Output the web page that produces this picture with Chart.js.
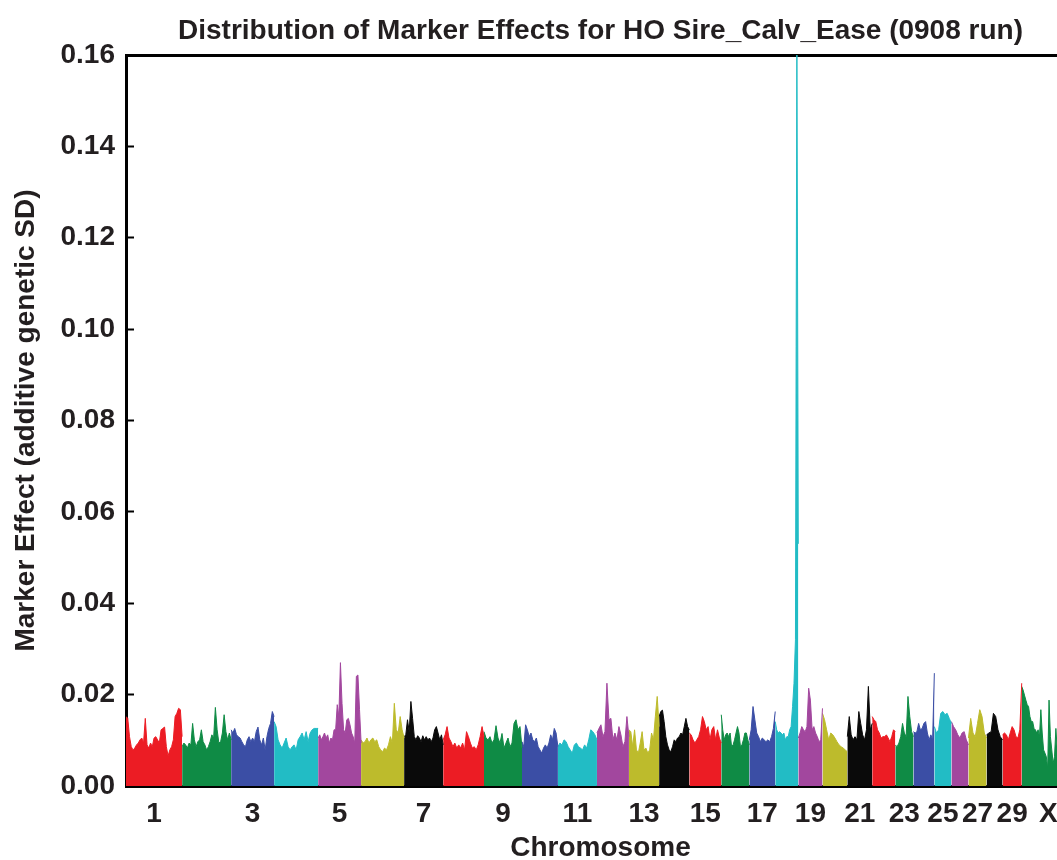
<!DOCTYPE html>
<html>
<head>
<meta charset="utf-8">
<title>Distribution of Marker Effects</title>
<script src="https://cdn.jsdelivr.net/npm/chart.js@4.4.1/dist/chart.umd.min.js"></script>
<style>
  html, body { margin: 0; padding: 0; background: #fff; overflow: hidden; }
  #wrap { width: 1100px; height: 860px; }
</style>
</head>
<body>
<div id="wrap"><canvas id="effectsChart" width="1100" height="860"></canvas></div>
<script>
// chromosomes and their lengths (Mb)
const chromLabels = ['1','2','3','4','5','6','7','8','9','10','11','12','13','14','15',
                     '16','17','18','19','20','21','22','23','24','25','26','27','28','29','X'];
const chromLengths = [158,138,121,124,121,121,110,115,107,101,110,90,85,85,90,
                      79,73,65,68,70,70,65,51,59,48,48,51,45,54,150];
// labels printed under the axis
const tickChroms = ['1','3','5','7','9','11','13','15','17','19','21','23','25','27','29','X'];
const yTicks = [0, 0.02, 0.04, 0.06, 0.08, 0.10, 0.12, 0.14, 0.16];

// marker effects along each chromosome (additive genetic SD)
const chr1 = [0.0152,0.0148,0.0108,0.0086,0.0079,0.0083,0.0090,0.0094,0.0101,0.0105,0.0094,0.0148,0.0090,0.0083,0.0094,0.0086,0.0105,0.0108,0.0101,0.0094,0.0123,0.0126,0.0129,0.0086,0.0066,0.0079,0.0086,0.0101,0.0152,0.0159,0.0170,0.0167,0.0108];
const chr2 = [0.0086,0.0094,0.0090,0.0083,0.0094,0.0090,0.0137,0.0101,0.0086,0.0097,0.0101,0.0123,0.0097,0.0090,0.0079,0.0086,0.0097,0.0112,0.0105,0.0172,0.0123,0.0094,0.0097,0.0116,0.0156,0.0119,0.0101,0.0116,0.0101];
const chr3 = [0.0123,0.0116,0.0126,0.0112,0.0108,0.0105,0.0097,0.0090,0.0086,0.0101,0.0108,0.0097,0.0105,0.0097,0.0119,0.0129,0.0101,0.0090,0.0105,0.0079,0.0108,0.0126,0.0137,0.0163,0.0152];
const chr4 = [0.0141,0.0130,0.0101,0.0090,0.0083,0.0094,0.0105,0.0086,0.0079,0.0086,0.0090,0.0079,0.0101,0.0108,0.0116,0.0101,0.0119,0.0097,0.0116,0.0123,0.0126,0.0126,0.0126];
const chr5 = [0.0105,0.0112,0.0101,0.0108,0.0116,0.0105,0.0112,0.0094,0.0105,0.0101,0.0123,0.0123,0.0178,0.0152,0.0270,0.0181,0.0123,0.0116,0.0145,0.0148,0.0134,0.0116,0.0108,0.0094,0.0240,0.0243,0.0167,0.0094];
const chr6 = [0.0101,0.0094,0.0097,0.0105,0.0094,0.0101,0.0105,0.0097,0.0101,0.0086,0.0079,0.0075,0.0083,0.0079,0.0090,0.0108,0.0094,0.0181,0.0123,0.0116,0.0152,0.0123,0.0105];
const chr7 = [0.0108,0.0112,0.0145,0.0119,0.0185,0.0148,0.0108,0.0101,0.0110,0.0105,0.0097,0.0110,0.0101,0.0108,0.0101,0.0105,0.0097,0.0105,0.0123,0.0130,0.0116,0.0101,0.0112,0.0090];
const chr8 = [0.0101,0.0112,0.0130,0.0105,0.0097,0.0086,0.0094,0.0083,0.0090,0.0083,0.0094,0.0079,0.0119,0.0108,0.0094,0.0083,0.0086,0.0079,0.0090,0.0108,0.0130,0.0108];
const chr9 = [0.0119,0.0105,0.0101,0.0108,0.0094,0.0101,0.0132,0.0105,0.0094,0.0115,0.0083,0.0094,0.0105,0.0086,0.0094,0.0137,0.0145,0.0123,0.0130,0.0083];
const chr10 = [0.0097,0.0086,0.0134,0.0123,0.0108,0.0116,0.0101,0.0097,0.0105,0.0086,0.0079,0.0072,0.0083,0.0090,0.0083,0.0094,0.0112,0.0101,0.0126,0.0116,0.0086];
const chr11 = [0.0086,0.0094,0.0090,0.0101,0.0097,0.0086,0.0079,0.0072,0.0090,0.0094,0.0086,0.0083,0.0079,0.0090,0.0083,0.0101,0.0123,0.0119,0.0112,0.0101];
const chr12 = [0.0116,0.0126,0.0134,0.0108,0.0119,0.0225,0.0145,0.0148,0.0101,0.0116,0.0101,0.0130,0.0112,0.0086,0.0097,0.0152,0.0108];
const chr13 = [0.0123,0.0119,0.0086,0.0123,0.0079,0.0072,0.0094,0.0119,0.0079,0.0083,0.0072,0.0079,0.0116,0.0101,0.0152,0.0196,0.0130];
const chr14 = [0.0152,0.0163,0.0166,0.0141,0.0108,0.0090,0.0079,0.0075,0.0086,0.0101,0.0097,0.0105,0.0108,0.0116,0.0112,0.0130,0.0148,0.0130,0.0123];
const chr15 = [0.0116,0.0112,0.0101,0.0094,0.0101,0.0108,0.0123,0.0152,0.0141,0.0123,0.0130,0.0101,0.0123,0.0130,0.0101,0.0123,0.0105,0.0094];
const chr16 = [0.0156,0.0123,0.0101,0.0112,0.0116,0.0108,0.0116,0.0086,0.0090,0.0101,0.0116,0.0130,0.0116,0.0086,0.0090,0.0101,0.0116,0.0116,0.0101,0.0090];
const chr17 = [0.0101,0.0123,0.0174,0.0145,0.0116,0.0108,0.0097,0.0105,0.0101,0.0097,0.0101,0.0097,0.0108,0.0126,0.0163];
const chr18 = [0.0141,0.0123,0.0116,0.0119,0.0116,0.0112,0.0116,0.0101,0.0108,0.0108,0.0123,0.0130,0.0174,0.0225,0.0320,0.1650,0.0530];
const chr19 = [0.0105,0.0116,0.0130,0.0123,0.0119,0.0130,0.0214,0.0188,0.0123,0.0130,0.0116,0.0108,0.0097,0.0101,0.0170];
const chr20 = [0.0159,0.0145,0.0123,0.0101,0.0116,0.0112,0.0105,0.0097,0.0090,0.0086,0.0083,0.0079,0.0075];
const chr21 = [0.0108,0.0152,0.0112,0.0101,0.0108,0.0101,0.0163,0.0137,0.0112,0.0101,0.0123,0.0218,0.0123,0.0137];
const chr22 = [0.0152,0.0145,0.0141,0.0123,0.0116,0.0105,0.0108,0.0108,0.0112,0.0105,0.0097,0.0108,0.0123,0.0119];
const chr23 = [0.0090,0.0086,0.0094,0.0108,0.0137,0.0116,0.0108,0.0196,0.0152,0.0119,0.0108];
const chr24 = [0.0119,0.0116,0.0119,0.0137,0.0123,0.0126,0.0137,0.0141,0.0116,0.0101,0.0112,0.0101,0.0247];
const chr25 = [0.0130,0.0116,0.0123,0.0159,0.0163,0.0156,0.0159,0.0148,0.0137];
const chr26 = [0.0141,0.0130,0.0123,0.0112,0.0105,0.0116,0.0119,0.0101,0.0090];
const chr27 = [0.0105,0.0148,0.0116,0.0108,0.0137,0.0167,0.0152,0.0116,0.0105];
const chr28 = [0.0112,0.0116,0.0119,0.0159,0.0152,0.0123,0.0108,0.0101];
const chr29 = [0.0112,0.0116,0.0112,0.0101,0.0116,0.0130,0.0123,0.0108,0.0105,0.0123,0.0225];
const chrX = [0.0218,0.0210,0.0199,0.0188,0.0178,0.0174,0.0152,0.0141,0.0141,0.0126,0.0123,0.0116,0.0123,0.0108,0.0167,0.0116,0.0079,0.0072,0.0064,0.0039,0.0188,0.0108,0.0079,0.0050,0.0064,0.0126,0.0079,0.0090,0.0101,0.0086,0.0094,0.0108,0.0083,0.0090,0.0097,0.0086,0.0101,0.0094,0.0088,0.0092];

const effects = [chr1, chr2, chr3, chr4, chr5, chr6, chr7, chr8, chr9, chr10, chr11, chr12, chr13, chr14, chr15,
                 chr16, chr17, chr18, chr19, chr20, chr21, chr22, chr23, chr24, chr25, chr26, chr27, chr28, chr29, chrX];

// colours repeat every 7 chromosomes
const palette = ['#ec1c24', '#0f8b45', '#3b4ea5', '#22bcc5', '#a2479e', '#bdbb2c', '#0a0a0a'];

document.addEventListener("DOMContentLoaded", function() {
    Chart.defaults.font.family = "'Liberation Sans', Arial, Helvetica, sans-serif";
    Chart.defaults.font.weight = 'bold';
    Chart.defaults.color = '#231f20';

    var datasets = [];
    var tickPositions = {};
    var start = 0;
    for (var c = 0; c < effects.length; c++) {
        var vals = effects[c];
        var len = chromLengths[c];
        var pts = [];
        for (var i = 0; i < vals.length; i++) {
            pts.push({ x: start + len * i / (vals.length - 1), y: vals[i] });
        }
        var col = palette[c % palette.length];
        datasets.push({
            label: chromLabels[c],
            data: pts,
            borderColor: col,
            backgroundColor: col,
            borderWidth: 1,
            pointRadius: 0,
            tension: 0,
            fill: 'origin'
        });
        tickPositions[chromLabels[c]] = start + len / 2;
        start += len;
    }
    var totalLength = start;

    var config = {
        type: 'line',
        data: { datasets: datasets },
        options: {
            responsive: false,
            animation: false,
            layout: { padding: { left: 0, right: 25, top: 0, bottom: 0 } },
            plugins: {
                legend: { display: false },
                tooltip: { enabled: false },
                title: {
                    display: true,
                    fullSize: false,
                    text: 'Distribution of Marker Effects for HO Sire_Calv_Ease (0908 run)',
                    font: { size: 28, weight: 'bold', lineHeight: 1 },
                    color: '#231f20',
                    padding: { top: 17, bottom: 10 }
                }
            },
            scales: {
                x: {
                    type: 'linear',
                    position: 'bottom',
                    min: 0,
                    max: totalLength,
                    afterFit: function(scale) { scale.height = 74; },
                    afterBuildTicks: function(scale) {
                        scale.ticks = tickChroms.map(function(name) { return { value: tickPositions[name] }; });
                    },
                    ticks: {
                        autoSkip: false,
                        maxRotation: 0,
                        padding: 11,
                        font: { size: 28, weight: 'bold' },
                        callback: function(value, index) { return tickChroms[index]; }
                    },
                    grid: { display: true, drawOnChartArea: false, drawTicks: false },
                    border: { display: true, color: '#000', width: 3 },
                    title: {
                        display: true,
                        text: 'Chromosome',
                        font: { size: 28, weight: 'bold', lineHeight: 0.85 },
                        padding: { top: 0, bottom: 0 }
                    }
                },
                xTop: {
                    type: 'linear',
                    position: 'top',
                    min: 0,
                    max: 1,
                    afterFit: function(scale) { scale.height = 0; },
                    ticks: { display: false },
                    grid: { display: true, drawOnChartArea: false, drawTicks: false },
                    border: { display: true, color: '#000', width: 3 }
                },
                y: {
                    min: 0,
                    max: 0.16,
                    afterFit: function(scale) { scale.width = 126; },
                    afterBuildTicks: function(scale) {
                        scale.ticks = yTicks.map(function(v) { return { value: v }; });
                    },
                    ticks: {
                        padding: 19,
                        font: { size: 28, weight: 'bold' },
                        callback: function(value) { return value.toFixed(2); }
                    },
                    grid: { display: true, drawOnChartArea: false, drawTicks: true, tickLength: -8, tickWidth: 2, tickColor: '#000' },
                    border: { display: true, color: '#000', width: 3 },
                    title: {
                        display: true,
                        text: 'Marker Effect (additive genetic SD)',
                        font: { size: 28, weight: 'bold', lineHeight: 1 },
                        padding: { top: 12, bottom: 0 }
                    }
                }
            }
        }
    };

    var ctx = document.getElementById('effectsChart').getContext('2d');
    new Chart(ctx, config);
});
</script>
</body>
</html>
